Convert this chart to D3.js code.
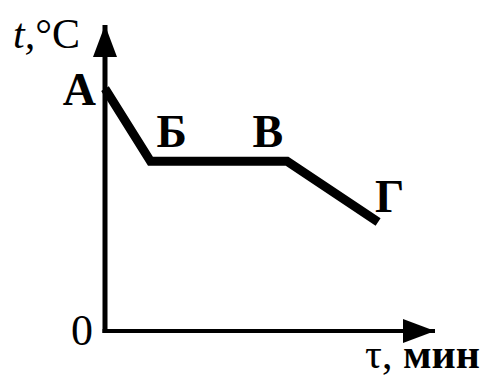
<!DOCTYPE html>
<html lang="ru">
<head>
<meta charset="UTF-8">
<title>Cooling curve</title>
<style>
  html, body { margin: 0; padding: 0; background: #fff; }
  svg { display: block; }
  .lbl { font-family: 'Liberation Serif', 'Times New Roman', serif; font-weight: bold; font-size: 44px; fill: #000; }
  .axis text { font-family: 'Liberation Serif', 'Times New Roman', serif; font-size: 44px; fill: #000; }
</style>
</head>
<body>
<div id="vis"></div>
<script src="https://d3js.org/d3.v7.min.js"></script>
<script>

// points of the curve: name, time (min), temperature
var names = ["А", "Б", "В", "Г"];
var times = [0, 1, 4, 6];
var temps = [20, 14, 14, 9];
var yTicks = [0];

var width = 483, height = 376;

var svg = d3.select("#vis").append("svg")
    .attr("width", width)
    .attr("height", height);

// axes run from the origin to the arrow tips
var x = d3.scaleLinear().domain([0, 7.25]).range([105, 435]);
var y = d3.scaleLinear().domain([0, 25.25]).range([331, 25]);

// arrow heads
var defs = svg.append("defs");
defs.append("marker")
    .attr("id", "arrow")
    .attr("viewBox", "0 0 32 24")
    .attr("refX", 32).attr("refY", 12)
    .attr("markerWidth", 32).attr("markerHeight", 24)
    .attr("markerUnits", "userSpaceOnUse")
    .attr("orient", "auto")
    .append("path")
    .attr("d", "M0,0 L32,12 L0,24 Z")
    .attr("fill", "#000");

// y axis, only the 0 label
var yAxis = d3.axisLeft(y).tickValues(yTicks).tickSize(0).tickPadding(12);
var gy = svg.append("g").attr("class", "axis")
    .attr("transform", "translate(" + x(0) + ",0)")
    .call(yAxis);
gy.select(".domain").remove();
gy.selectAll("text").attr("dy", "0.3em");

svg.append("line")
    .attr("x1", x(0)).attr("y1", y(0) + 2)
    .attr("x2", x(0)).attr("y2", y.range()[1])
    .attr("stroke", "#000").attr("stroke-width", 5)
    .attr("marker-end", "url(#arrow)");

svg.append("line")
    .attr("x1", x(0) - 2.5).attr("y1", y(0))
    .attr("x2", x.range()[1]).attr("y2", y(0))
    .attr("stroke", "#000").attr("stroke-width", 4)
    .attr("marker-end", "url(#arrow)");

// the curve
var line = d3.line()
    .x(function(d, i){ return x(times[i]); })
    .y(function(d, i){ return y(temps[i]); });

svg.append("path")
    .datum(names)
    .attr("d", line)
    .attr("fill", "none")
    .attr("stroke", "#000")
    .attr("stroke-width", 9)
    .attr("stroke-linejoin", "miter");

// point letters
svg.selectAll(".pt")
    .data(names)
    .enter()
    .append("text")
    .attr("class", "lbl pt")
    .attr("x", function(d, i){
        if (i == 0) return x(times[i]) - 9;
        if (i == 2) return x(times[i]) - 4;
        return x(times[i]) + (i == 3 ? -3 : 6);
    })
    .attr("y", function(d, i){
        if (i == 0) return y(temps[i]) + 16;
        if (i == 3) return y(temps[i]) - 10;
        return y(temps[i]) - 14;
    })
    .attr("text-anchor", function(d, i){ return (i == 0 || i == 2) ? "end" : "start"; })
    .style("font-size", "46px")
    .text(function(d){ return d; });

// axis titles
var yt = svg.append("text")
    .attr("class", "lbl")
    .attr("x", 13).attr("y", 48)
    .style("font-weight", "normal")
    .style("font-size", "42px");
yt.append("tspan").style("font-style", "italic").text("t,");
yt.append("tspan").text("°C");

var xt = svg.append("text")
    .attr("class", "lbl")
    .attr("x", 480).attr("y", 368)
    .attr("text-anchor", "end")
    .style("font-size", "42px");
xt.append("tspan").style("font-weight", "normal").text("τ,");
xt.append("tspan").text(" мин");

</script>
</body>
</html>
